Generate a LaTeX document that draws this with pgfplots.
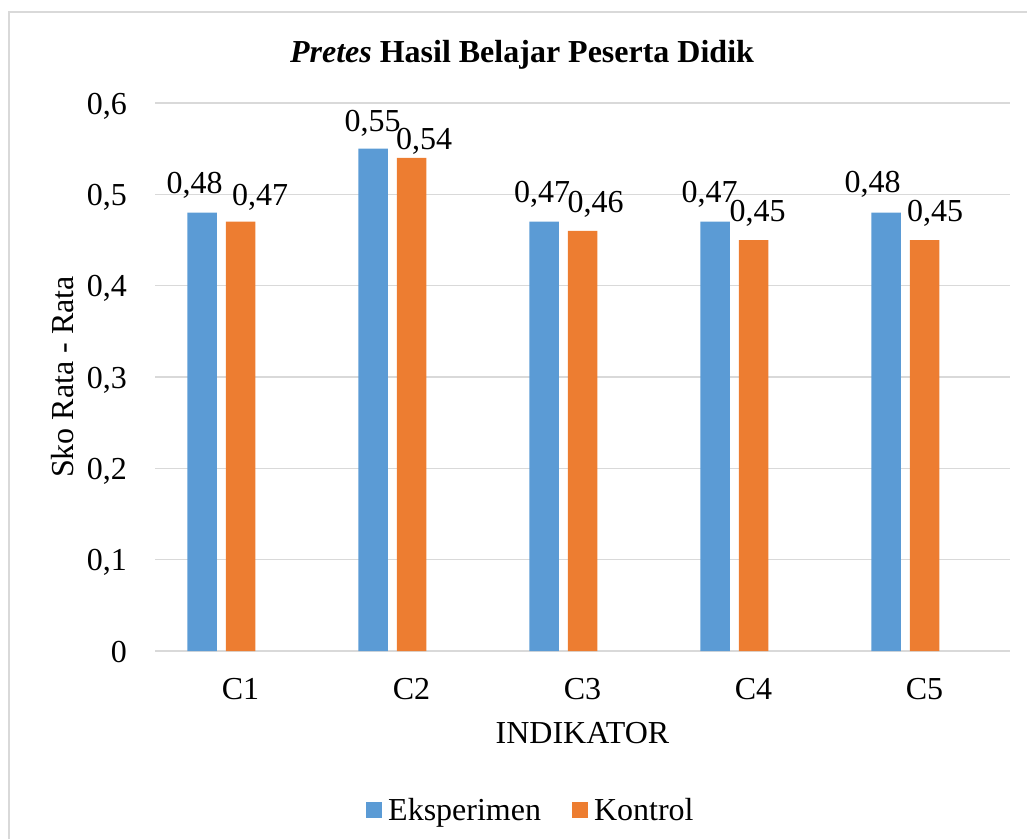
\documentclass[border=0pt]{standalone}
\usepackage{pgfplots}
\pgfplotsset{compat=1.18}
\usepackage{pgfplotstable}
\usepackage{fontspec}
\setmainfont{Liberation Serif}
\definecolor{barblue}{HTML}{5B9BD5}
\definecolor{barorange}{HTML}{ED7D31}
\definecolor{gridgray}{HTML}{D9D9D9}

\pgfplotstableread{
x y dx dy
0 0.48 -46 19
1 0.55 -39 17
2 0.47 -40.5 19
3 0.47 -44 19
4 0.48 -52 20
}\eksperimen
\pgfplotstableread{
x y dx dy
0 0.47 19.5 16
1 0.54 12.5 8
2 0.46 13 18
3 0.45 4 19
4 0.45 10.5 19
}\kontrol

\begin{document}
\begin{tikzpicture}[font=\fontsize{32}{38}\selectfont]
\path[use as bounding box] (0pt,0pt) rectangle (1027pt,-839pt);
\draw[gridgray, line width=1.5pt] (9pt,-839pt) -- (9pt,-12pt) -- (1027pt,-12pt);
\node[anchor=base, font=\fontsize{32}{38}\selectfont\bfseries] at (522pt,-62pt) {\textit{Pretes} Hasil Belajar Peserta Didik};
\begin{axis}[
  at={(155pt,-651pt)}, anchor=south west,
  scale only axis, width=855pt, height=548pt,
  xmin=-0.5, xmax=4.5, ymin=0, ymax=0.6,
  xtick={0,1,2,3,4},
  xticklabels={C1,C2,C3,C4,C5},
  ytick={0,0.1,0.2,0.3,0.4,0.5,0.6},
  /pgf/number format/.cd, use comma, fixed, precision=2, assume math mode=true,
  /pgfplots/.cd,
  axis line style={draw=none},
  major tick length=0pt,
  ymajorgrids,
  grid style={gridgray, line width=1.5pt},
  xticklabel style={anchor=base, inner sep=0pt, yshift=-48pt},
  yticklabel style={anchor=base east, inner sep=0pt, xshift=-28pt, yshift=-11pt},
  xlabel={INDIKATOR},
  ylabel={Sko Rata - Rata},
  every axis x label/.style={at={(rel axis cs:0.5,0)}, anchor=base, inner sep=0pt, yshift=-92pt},
  every axis y label/.style={at={([xshift=-82pt]rel axis cs:0,0.5)}, rotate=90, anchor=base, inner sep=0pt},
  legend columns=2,
  legend style={draw=none, fill=none, at={(rel axis cs:0.442,-0.29)}, anchor=center,
    /tikz/every even column/.append style={column sep=25pt},
    nodes={inner sep=6pt}},
  legend image code/.code={\fill[#1, draw=none] (0pt,-8pt) rectangle (16pt,8pt);},
  clip=false,
]
\addplot[ybar, bar width=29.5pt, bar shift=-38.5pt, fill=barblue, draw=none,
  visualization depends on={\thisrow{dx}\as\dx},
  visualization depends on={\thisrow{dy}\as\dy},
  nodes near coords,
  nodes near coords style={anchor=base, inner sep=0pt, xshift=\dx, yshift=\dy, text=black}]
  table[x=x, y=y] {\eksperimen};
\addlegendentry{Eksperimen}
\addplot[ybar, bar width=29.5pt, bar shift=0pt, fill=barorange, draw=none,
  visualization depends on={\thisrow{dx}\as\dx},
  visualization depends on={\thisrow{dy}\as\dy},
  nodes near coords,
  nodes near coords style={anchor=base, inner sep=0pt, xshift=\dx, yshift=\dy, text=black}]
  table[x=x, y=y] {\kontrol};
\addlegendentry{Kontrol}
\end{axis}
\end{tikzpicture}
\end{document}
